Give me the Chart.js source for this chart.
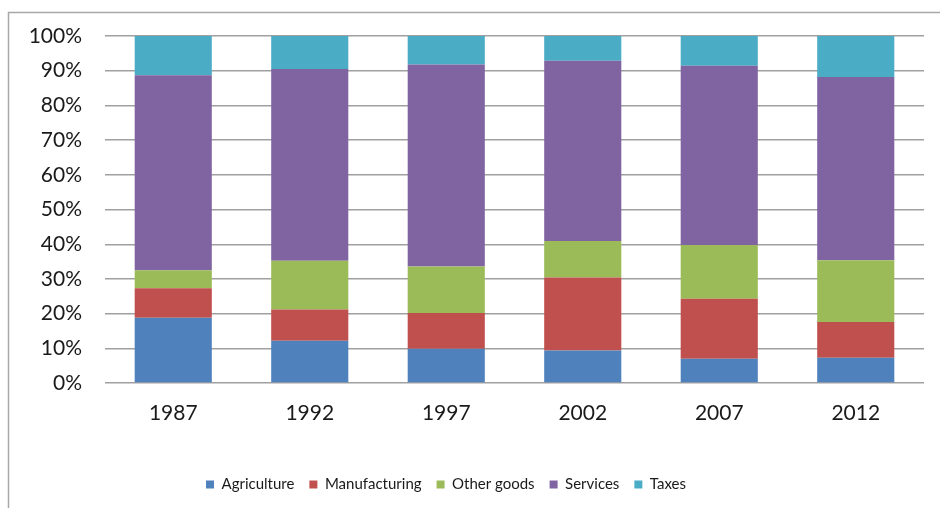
<!DOCTYPE html>
<html>
<head>
<meta charset="utf-8">
<script src="https://cdn.jsdelivr.net/npm/chart.js@4"></script>
<style>
  html, body { margin: 0; padding: 0; background: #fff; }
  #wrap { width: 940px; height: 508px; position: relative; }
</style>
</head>
<body>
<div id="wrap"><canvas id="c" width="940" height="508"></canvas></div>
<script>
const years = ['1987', '1992', '1997', '2002', '2007', '2012'];
const agriculture   = [18.8, 12.2,  9.9,  9.4,  7.0,  7.3];
const manufacturing = [ 8.5,  9.0, 10.3, 21.0, 17.3, 10.3];
const otherGoods    = [ 5.2, 14.0, 13.4, 10.5, 15.5, 17.8];
const services      = [56.2, 55.3, 58.2, 52.0, 51.6, 52.8];
const taxes         = [11.3,  9.5,  8.2,  7.1,  8.6, 11.8];
const yTicks = [0, 10, 20, 30, 40, 50, 60, 70, 80, 90, 100];

const FONT = 'Lato, "Open Sans", sans-serif';

const frame = {
  id: 'frame',
  afterLayout(chart) {
    const lg = chart.legend;
    if (lg) { lg.left -= 16; lg.right -= 16; }
  },
  afterDraw(chart) {
    const ctx = chart.ctx;
    ctx.save();
    ctx.strokeStyle = '#a8a8a8';
    ctx.lineWidth = 1.5;
    ctx.beginPath();
    ctx.moveTo(8.5, 508);
    ctx.lineTo(8.5, 12.5);
    ctx.lineTo(940, 12.5);
    ctx.stroke();
    ctx.restore();
  }
};

function ds(label, data, color) {
  return { label, data, backgroundColor: color, borderWidth: 0,
           barPercentage: 0.565, categoryPercentage: 1.0 };
}

new Chart(document.getElementById('c'), {
  type: 'bar',
  data: {
    labels: years,
    datasets: [
      ds('Agriculture', agriculture, '#4F81BD'),
      ds('Manufacturing', manufacturing, '#C0504D'),
      ds('Other goods', otherGoods, '#9BBB59'),
      ds('Services', services, '#8064A2'),
      ds('Taxes', taxes, '#4BACC6')
    ]
  },
  options: {
    responsive: false,
    animation: false,
    devicePixelRatio: 1,
    layout: { padding: { left: 0, right: 16, top: 36, bottom: 6 } },
    plugins: {
      tooltip: { enabled: false },
      legend: {
        position: 'bottom',
        labels: {
          color: '#1a1a1a',
          font: { family: FONT, size: 15 },
          boxWidth: 8, boxHeight: 8,
          padding: 15
        }
      }
    },
    scales: {
      x: {
        stacked: true,
        grid: { display: false, drawTicks: false },
        border: { display: false },
        ticks: { color: '#1a1a1a', font: { family: FONT, size: 21 }, padding: 18 },
        afterFit(scale) { scale.height = 79; }
      },
      y: {
        stacked: true,
        min: 0, max: 100,
        afterBuildTicks(scale) { scale.ticks = yTicks.map(v => ({ value: v })); },
        grid: { color: '#a0a0a0', lineWidth: 1.4, drawTicks: false },
        border: { display: false },
        ticks: {
          color: '#1a1a1a',
          font: { family: FONT, size: 21 },
          padding: 23,
          callback: v => v + '%'
        },
        afterFit(scale) { scale.width = 105; }
      }
    }
  },
  plugins: [frame]
});
</script>
</body>
</html>
